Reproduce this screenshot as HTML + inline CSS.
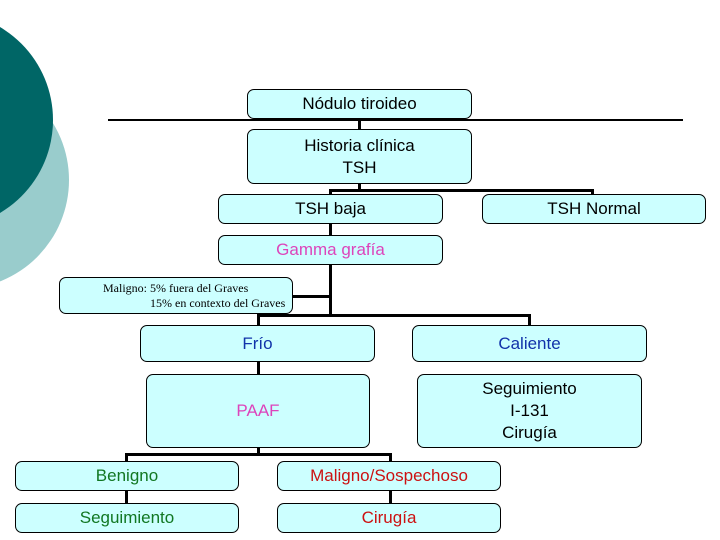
<!DOCTYPE html>
<html><head><meta charset="utf-8"><style>
body{margin:0;width:720px;height:540px;background:#fff;position:relative;overflow:hidden;font-family:"Liberation Sans",sans-serif}
.b{position:absolute;box-sizing:border-box;background:#ccffff;border:1px solid #000;border-radius:7px;display:flex;align-items:center;justify-content:center;text-align:center;font-size:17px;line-height:22px}
.l{position:absolute;background:#000}
</style></head><body>
<div style="position:absolute;left:-149px;top:71px;width:218px;height:218px;border-radius:50%;background:#99cccc"></div>
<div style="position:absolute;left:-163px;top:12px;width:216px;height:216px;border-radius:50%;background:#006666"></div>

<div class="l" style="left:108px;top:119px;width:575px;height:2px"></div>
<div class="l" style="left:358px;top:118px;width:3px;height:12px"></div>
<div class="l" style="left:358px;top:183px;width:3px;height:8px"></div>
<div class="l" style="left:329px;top:189px;width:265px;height:3px"></div>
<div class="l" style="left:329px;top:189px;width:3px;height:6px"></div>
<div class="l" style="left:591px;top:189px;width:3px;height:6px"></div>
<div class="l" style="left:329px;top:222px;width:3px;height:14px"></div>
<div class="l" style="left:329px;top:264px;width:3px;height:52px"></div>
<div class="l" style="left:292px;top:295px;width:38px;height:3px"></div>
<div class="l" style="left:257px;top:314px;width:274px;height:3px"></div>
<div class="l" style="left:257px;top:314px;width:3px;height:12px"></div>
<div class="l" style="left:528px;top:314px;width:3px;height:12px"></div>
<div class="l" style="left:257px;top:361px;width:3px;height:14px"></div>
<div class="l" style="left:257px;top:447px;width:3px;height:8px"></div>
<div class="l" style="left:125px;top:453px;width:267px;height:3px"></div>
<div class="l" style="left:125px;top:453px;width:3px;height:9px"></div>
<div class="l" style="left:389px;top:453px;width:3px;height:9px"></div>
<div class="l" style="left:125px;top:490px;width:3px;height:14px"></div>
<div class="l" style="left:389px;top:490px;width:3px;height:14px"></div>

<div class="b" style="left:247px;top:89px;width:225px;height:30px">Nódulo tiroideo</div>
<div class="b" style="left:247px;top:129px;width:225px;height:55px">Historia clínica<br>TSH</div>
<div class="b" style="left:218px;top:194px;width:225px;height:30px">TSH baja</div>
<div class="b" style="left:482px;top:194px;width:224px;height:30px">TSH Normal</div>
<div class="b" style="left:218px;top:235px;width:225px;height:30px;color:#dd44bb">Gamma grafía</div>
<div class="b" style="left:59px;top:277px;width:234px;height:37px;font-family:'Liberation Serif',serif;font-size:12px;line-height:15px;display:block;text-align:left;padding-top:3px"><div style="padding-left:43px">Maligno: 5% fuera del Graves</div><div style="padding-left:90px">15% en contexto del Graves</div></div>
<div class="b" style="left:140px;top:325px;width:235px;height:37px;color:#1133aa">Frío</div>
<div class="b" style="left:412px;top:325px;width:235px;height:37px;color:#1133aa">Caliente</div>
<div class="b" style="left:146px;top:374px;width:224px;height:74px;color:#dd44bb">PAAF</div>
<div class="b" style="left:417px;top:374px;width:225px;height:74px">Seguimiento<br>I-131<br>Cirugía</div>
<div class="b" style="left:15px;top:461px;width:224px;height:30px;color:#117722">Benigno</div>
<div class="b" style="left:277px;top:461px;width:224px;height:30px;color:#cc1111">Maligno/Sospechoso</div>
<div class="b" style="left:15px;top:503px;width:224px;height:30px;color:#117722">Seguimiento</div>
<div class="b" style="left:277px;top:503px;width:224px;height:30px;color:#cc1111">Cirugía</div>
</body></html>
